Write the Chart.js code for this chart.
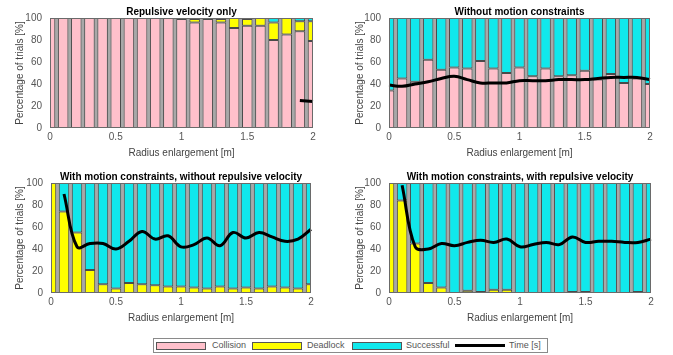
<!DOCTYPE html>
<html>
<head>
<meta charset="utf-8">
<script src="https://cdn.jsdelivr.net/npm/chart.js@4.4.1/dist/chart.umd.min.js"></script>
<style>
  html, body { margin: 0; padding: 0; background: #fff; }
  body { width: 673px; height: 355px; position: relative; overflow: hidden;
         font-family: 'Liberation Sans', Arial, sans-serif; }
  .panel { position: absolute; }
  #legend { position: absolute; left: 153px; top: 338px; width: 393px; height: 13px;
            border: 1px solid #8a8a8a; font-size: 9px; color: #555; }
  #legend .sw { position: absolute; top: 3px; width: 48px; height: 6px; border: 1px solid #555; }
  #legend .tx { position: absolute; top: 1px; line-height: 11px; }
  #legend .ln { position: absolute; top: 5px; width: 50px; height: 3px; background: #000; }
</style>
</head>
<body>
<div class="panel" style="left:0;top:0;width:330px;height:160px"><canvas id="c1"></canvas></div>
<div class="panel" style="left:340px;top:0;width:333px;height:160px"><canvas id="c2"></canvas></div>
<div class="panel" style="left:0;top:165px;width:330px;height:160px"><canvas id="c3"></canvas></div>
<div class="panel" style="left:340px;top:165px;width:333px;height:160px"><canvas id="c4"></canvas></div>

<div id="legend">
  <div class="sw" style="left:2px;background:#ffc0cb"></div><div class="tx" style="left:58px">Collision</div>
  <div class="sw" style="left:98px;background:#ffff00"></div><div class="tx" style="left:153px">Deadlock</div>
  <div class="sw" style="left:198px;background:#10e8ec"></div><div class="tx" style="left:252px">Successful</div>
  <div class="ln" style="left:301px"></div><div class="tx" style="left:355px">Time [s]</div>
</div>

<script>
'use strict';

// ============================================================
// Data (radius enlargement 0 .. 2 m, step 0.1)
// ============================================================
const radius = ['0','0.1','0.2','0.3','0.4','0.5','0.6','0.7','0.8','0.9','1',
                '1.1','1.2','1.3','1.4','1.5','1.6','1.7','1.8','1.9','2'];
const xTickLabels = ['0', '0.5', '1', '1.5', '2'];
const yTicks = [0, 20, 40, 60, 80, 100];

// Repulsive velocity only
const collision1 = [100,100,100,100,100,100,100,100,100,100,99,96,99,96,91,93,93,80,85,88,79];
const deadlock1  = [0,0,0,0,0,0,0,0,0,0,1,3,1,3,9,6,7,16,15,9,18];
const success1   = [0,0,0,0,0,0,0,0,0,0,0,1,0,1,0,1,0,4,0,3,3];
const time1      = [null,null,null,null,null,null,null,null,null,null,null,null,null,null,null,null,null,null,null,25,24];

// Without motion constraints
const collision2 = [34,45,42,62,53,55,54,61,54,50,55,47,54,47,48,52,44,49,41,45,40];
const deadlock2  = [0,0,0,0,0,0,0,0,0,0,0,0,0,0,0,0,0,0,0,0,0];
const success2   = [66,55,58,38,47,45,46,39,46,50,45,53,46,53,52,48,56,51,59,55,60];
const time2      = [39,38,40,42,45,47,44,41,41,41,43,43,43,44,44,44,45,46,46,46,44];

// With motion constraints, without repulsive velocity
const collision3 = [0,0,0,0,0,0,0,0,0,0,0,0,0,0,0,0,0,0,0,0,0];
const deadlock3  = [100,74,55,21,8,4,9,8,7,6,6,5,4,6,4,5,4,6,5,4,8];
const success3   = [0,26,45,79,92,96,91,92,93,94,94,95,96,94,96,95,96,94,95,96,92];
const time3      = [null,90,42,45,45,40,47,56,49,52,42,44,50,43,55,50,55,51,47,49,58];

// With motion constraints, with repulsive velocity
const collision4 = [0,0,0,0,0,0,0,0,0,0,0,0,0,0,0,0,0,0,0,0,0];
const deadlock4  = [100,84,45,9,5,0,2,1,3,3,0,0,0,0,1,1,0,0,0,1,0];
const success4   = [0,16,55,91,95,100,98,99,97,97,100,100,100,100,99,99,100,100,100,99,100];
const time4      = [null,98,42,40,45,43,46,48,46,49,42,44,46,44,51,46,47,47,46,46,49];

// ============================================================
// Styling
// ============================================================
const FONT = "'Liberation Sans', Arial, sans-serif";
const COLORS = { collision: '#ffc0cb', deadlock: '#ffff00', success: '#10e8ec' };

// Grey plot background + MATLAB-like box around the axes
const boxPlugin = {
    id: 'axesBox',
    beforeDatasetsDraw(chart) {
        const { ctx, chartArea: a } = chart;
        ctx.save();
        ctx.fillStyle = '#a8a8a8';
        ctx.fillRect(a.left, a.top, a.right - a.left, a.bottom - a.top);
        ctx.restore();
    },
    afterDraw(chart) {
        const { ctx, chartArea: a } = chart;
        ctx.save();
        ctx.strokeStyle = '#6a6a6a';
        ctx.lineWidth = 1;
        ctx.strokeRect(a.left + 0.5, a.top + 0.5, a.right - a.left - 1, a.bottom - a.top - 1);
        ctx.restore();
    }
};

// Title centred over the plot area (not the whole canvas)
const panelTitlePlugin = {
    id: 'panelTitle',
    afterDraw(chart, args, opts) {
        const { ctx, chartArea: a } = chart;
        ctx.save();
        ctx.font = 'bold 10px ' + FONT;
        ctx.fillStyle = '#000';
        ctx.textAlign = 'center';
        ctx.textBaseline = 'middle';
        ctx.fillText(opts.text, (a.left + a.right) / 2, 12);
        ctx.restore();
    }
};

function barSet(label, data, color) {
    return {
        type: 'bar', label, data,
        backgroundColor: color,
        borderColor: '#4a4a4a',
        borderWidth: 1,
        borderSkipped: false,
        barPercentage: 0.8,
        categoryPercentage: 1,
        clip: 0,
        order: 1,
    };
}

function makePanel(id, title, collision, deadlock, success, time, yAxisWidth, padRight) {
    new Chart(document.getElementById(id), {
        data: {
            labels: radius,
            datasets: [
                {
                    type: 'line', label: 'Time [s]', data: time,
                    borderColor: '#000', borderWidth: 3,
                    pointRadius: 0, tension: 0.4,
                    stack: 'time', order: 0, clip: 2,
                },
                barSet('Collision', collision, COLORS.collision),
                barSet('Deadlock', deadlock, COLORS.deadlock),
                barSet('Successful', success, COLORS.success),
            ]
        },
        options: {
            responsive: true,
            maintainAspectRatio: false,
            animation: false,
            layout: { padding: { left: 0, right: padRight, top: 18, bottom: 0 } },
            plugins: {
                legend: { display: false },
                tooltip: { enabled: false },
                title: { display: false },
                panelTitle: { text: title },
            },
            scales: {
                x: {
                    stacked: true,
                    offset: false,
                    grid: { display: false, drawTicks: false },
                    border: { display: false },
                    ticks: {
                        autoSkip: false, maxRotation: 0, padding: 3,
                        color: '#555', font: { family: FONT, size: 10 },
                        callback: (v, i) => (i % 5 === 0 ? xTickLabels[i / 5] : ''),
                    },
                    title: {
                        display: true, text: 'Radius enlargement [m]', color: '#444',
                        font: { family: FONT, size: 10 }, padding: { top: 0, bottom: 1 },
                    },
                    afterFit: s => { s.height = 32; },
                },
                y: {
                    stacked: true,
                    min: 0, max: 100,
                    grid: { display: false, drawTicks: false },
                    border: { display: false },
                    afterBuildTicks: s => { s.ticks = yTicks.map(v => ({ value: v })); },
                    ticks: { padding: 8, color: '#555', font: { family: FONT, size: 10 } },
                    title: {
                        display: true, text: 'Percentage of trials [%]', color: '#444',
                        font: { family: FONT, size: 10 }, padding: { top: 14, bottom: 0 },
                    },
                    afterFit: s => { s.width = yAxisWidth; },
                },
            },
        },
        plugins: [boxPlugin, panelTitlePlugin],
    });
}

document.addEventListener('DOMContentLoaded', () => {
    makePanel('c1', 'Repulsive velocity only', collision1, deadlock1, success1, time1, 50, 17);
    makePanel('c2', 'Without motion constraints', collision2, deadlock2, success2, time2, 49, 23);
    makePanel('c3', 'With motion constraints, without repulsive velocity', collision3, deadlock3, success3, time3, 51, 19);
    makePanel('c4', 'With motion constraints, with repulsive velocity', collision4, deadlock4, success4, time4, 49, 22);
});
</script>
</body>
</html>
